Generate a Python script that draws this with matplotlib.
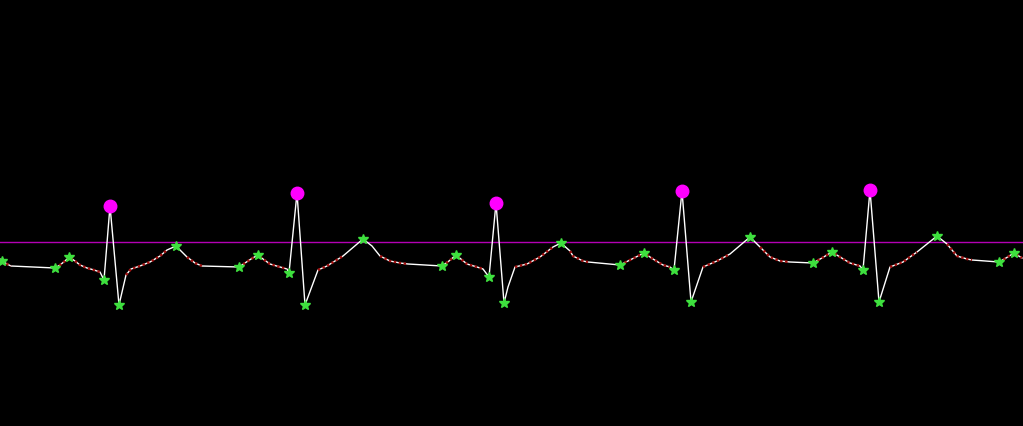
import matplotlib
matplotlib.use("Agg")
import matplotlib.pyplot as plt
import numpy as np

# ECG trace vertices (sample position, screen amplitude; axis is inverted)
wave_x = [0, 2, 7, 11, 33, 55, 60, 65, 69, 75, 80, 87, 94, 100, 104, 110, 119, 126, 131, 140,
          150, 160, 167, 176, 187, 195, 202, 239, 245, 251, 258, 263, 270, 280, 287, 289, 297, 305, 318, 327,
          335, 343, 363, 372, 380, 390, 400, 408, 442, 449, 456, 467, 477, 483, 489, 496, 504, 508, 515, 527,
          540, 553, 561, 570, 573, 583, 588, 620, 632, 644, 653, 663, 670, 674, 682, 691, 703, 717, 730, 750,
          760, 770, 780, 790, 813, 822, 832, 840, 850, 860, 863, 870, 879, 890, 903, 917, 937, 947, 957, 967,
          972, 999, 1006, 1014, 1022]
wave_y = [260, 262, 265, 267, 268, 269, 266, 262, 258, 262, 266, 269, 271, 273, 281, 207, 306, 276, 270, 267,
          263, 257, 251, 247, 258, 264, 267, 268, 264, 260, 256, 260, 265, 268, 270, 274, 194, 306, 271, 267,
          262, 257, 240, 247, 257, 262, 264, 265, 267, 262, 256, 265, 268, 270, 278, 204, 304, 288, 268, 265,
          258, 248, 244, 252, 257, 262, 263, 266, 260, 254, 260, 266, 268, 271, 192, 303, 268, 262, 255, 238,
          248, 258, 262, 263, 264, 259, 253, 258, 264, 267, 271, 191, 303, 268, 263, 253, 237, 245, 257, 260,
          261, 263, 259, 254, 259]
# 1 = segment ending at this vertex is densely sampled (drawn with red sample dots)
dense = [0, 0, 1, 1, 0, 0, 1, 1, 1, 1, 1, 1, 1, 1, 0, 0, 0, 0, 1, 1,
         1, 1, 1, 0, 0, 1, 1, 0, 1, 1, 1, 1, 1, 1, 1, 0, 0, 0, 0, 1,
         1, 1, 0, 0, 0, 1, 1, 1, 0, 1, 1, 1, 1, 1, 0, 0, 0, 0, 0, 1,
         1, 1, 0, 0, 1, 1, 1, 0, 1, 1, 1, 1, 1, 0, 0, 0, 0, 1, 1, 0,
         0, 1, 1, 1, 0, 1, 1, 1, 1, 1, 0, 0, 0, 0, 1, 1, 0, 0, 1, 1,
         1, 0, 1, 1, 1]
# fiducial points (indices into the trace)
fiducial_idx = [1, 5, 8, 14, 16, 23, 27, 30, 35, 37, 42, 48, 50, 54, 56, 62, 67, 69, 73, 75,
                79, 84, 86, 90, 92, 96, 101, 103]
r_peak_idx = [15, 36, 55, 74, 91]
threshold = 243

fig = plt.figure(figsize=(10.23, 4.27), dpi=100, facecolor="black")
ax = fig.add_axes([0, 0, 1, 1])
ax.set_facecolor("black")
ax.set_xlim(0, 1023)
ax.set_ylim(427, 0)
ax.axis("off")

wx = np.array(wave_x)
wy = np.array(wave_y)

ax.axhline(threshold, color="#b400b4", lw=1.0, zorder=1)
ax.plot(wx, wy, color="white", lw=1.0, zorder=2)

# red sampled runs
i = 1
n = len(wx)
while i < n:
    if dense[i]:
        j = i
        while j + 1 < n and dense[j + 1]:
            j += 1
        ax.plot(wx[i - 1:j + 1], wy[i - 1:j + 1], color="#a01010", lw=1.8,
                linestyle=(0, (1.0, 1.0)), zorder=3)
        i = j + 1
    else:
        i += 1

fi = np.array(fiducial_idx)
ax.plot(wx[fi], wy[fi], linestyle="none", marker="*", color="#3ee03e",
        markersize=7.5, markeredgewidth=1.0, zorder=4)
ri = np.array(r_peak_idx)
ax.plot(wx[ri], wy[ri], linestyle="none", marker="o", color="#ff00ff",
        markersize=9, zorder=5)

fig.savefig("out.png", dpi=100, facecolor="black")
